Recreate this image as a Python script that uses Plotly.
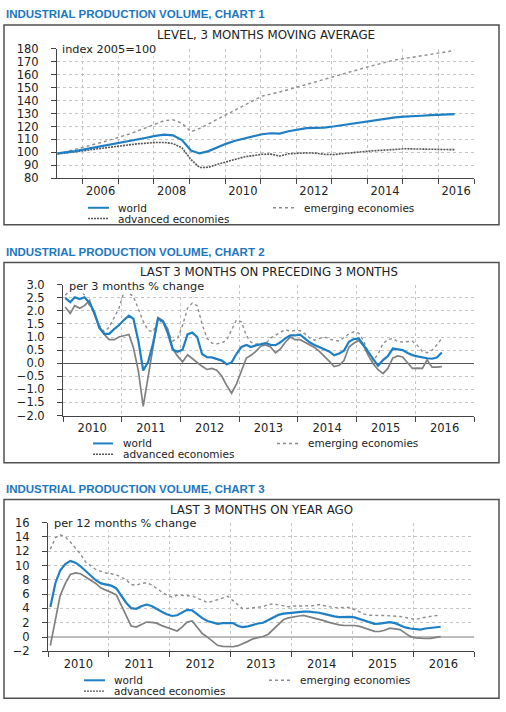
import plotly.graph_objects as go

W, H = 506, 712

# ---------------- data ----------------
# Chart 1: quarterly points, index 2005=100
C1_MONTH_IDX = [2005 * 12 + 3 + 3 * k for k in range(45)]
C1_DATES = [f"{i // 12}-{i % 12 + 1:02d}-15" for i in C1_MONTH_IDX] + ["2016-06-15"]
C1_WORLD = [99.3, 100.0, 101.0, 102.3, 103.5, 104.7, 106.0, 107.3, 108.7, 110.0, 111.3, 112.7,
            113.7, 113.2, 109.5, 101.5, 99.2, 101.0, 104.0, 106.8, 109.0, 110.8, 112.3, 114.0,
            114.8, 114.5, 116.3, 117.5, 118.7, 119.0, 119.2, 120.0, 121.0, 122.0, 123.2, 124.4,
            125.4, 126.0, 127.0, 127.6, 127.8, 128.3, 128.8, 129.0, 129.3, 129.6]
C1_EMERGING = [98.8, 100.5, 102.5, 104.3, 106.0, 107.8, 109.8, 111.8, 114.0, 116.5, 119.2, 122.0,
               124.5, 125.2, 122.5, 116.0, 118.5, 122.0, 125.5, 129.0, 132.5, 136.0, 140.0, 143.5,
               145.0, 146.5, 148.5, 150.5, 152.5, 154.5, 156.5, 158.8, 160.5, 162.5, 164.5, 166.3,
               168.0, 170.0, 171.5, 172.5, 173.5, 174.5, 175.8, 177.0, 178.0, 179.0]
C1_ADVANCED = [98.8, 99.5, 100.4, 101.3, 102.3, 103.3, 104.2, 105.0, 105.8, 106.6, 107.2, 107.6,
               107.7, 106.8, 103.5, 94.5, 88.3, 88.5, 90.8, 92.8, 94.8, 96.5, 97.5, 98.5,
               98.7, 97.2, 98.9, 99.5, 99.6, 99.4, 98.5, 98.3, 98.8, 99.5, 100.3, 101.0,
               101.6, 102.0, 102.3, 102.8, 102.6, 102.5, 102.5, 102.4, 102.2, 102.1]

# Charts 2 and 3: monthly points Jan 2010 - Jun 2016
M_DATES = [f"{2010 + m // 12}-{m % 12 + 1:02d}-15" for m in range(78)]

C2_WORLD = [2.5, 2.33, 2.52, 2.45, 2.52, 2.3, 1.95, 1.35, 1.12, 1.12, 1.3, 1.45,
            1.65, 1.82, 1.7, 0.85, -0.28, 0.05, 0.75, 1.7, 1.6, 1.15, 0.52, 0.44,
            0.52, 1.1, 1.17, 1.0, 0.35, 0.23, 0.22, 0.17, 0.1, -0.04, 0.03, 0.35,
            0.62, 0.7, 0.62, 0.68, 0.72, 0.77, 0.7, 0.69, 0.8, 0.95, 1.06, 1.06,
            1.09, 0.94, 0.8, 0.7, 0.62, 0.56, 0.45, 0.3, 0.37, 0.48, 0.82, 0.92,
            0.95, 0.68, 0.42, 0.15, -0.1, 0.12, 0.27, 0.56, 0.53, 0.5, 0.39, 0.31,
            0.26, 0.21, 0.19, 0.17, 0.22, 0.41]
C2_EMERGING = [2.6, 2.8, 2.95, 2.85, 2.6, 2.2, 1.9, 1.45, 1.2, 1.38, 1.72, 2.1,
               2.72, 2.68, 2.55, 2.1, 1.6, 1.25, 1.2, 1.6, 1.58, 1.2, 0.85, 0.95,
               1.45, 2.1, 2.3, 2.2, 1.5, 0.95, 0.77, 0.74, 0.78, 0.88, 1.3, 1.65,
               1.58, 1.05, 0.8, 0.73, 0.76, 0.74, 0.96, 1.07, 1.2, 1.28, 1.23, 1.25,
               1.24, 1.12, 0.97, 0.88, 0.95, 1.0, 0.93, 0.87, 0.85, 0.98, 1.12, 1.2,
               1.15, 0.85, 0.4, 0.1, 0.35, 0.75, 0.9, 0.95, 0.82, 0.81, 0.82, 0.84,
               0.68, 0.45, 0.4, 0.5, 0.7, 0.95]
C2_ADVANCED = [2.15, 1.9, 2.2, 2.1, 2.2, 2.4, 1.85, 1.4, 1.1, 0.9, 0.9, 1.0,
               1.05, 1.1, 0.6, -0.3, -1.65, -0.5, 0.63, 1.75, 1.62, 1.3, 0.55, 0.27,
               0.05, 0.32, 0.18, 0.02, -0.12, -0.24, -0.2, -0.27, -0.5, -0.85, -1.15, -0.8,
               -0.3, 0.2, 0.3, 0.45, 0.65, 0.7, 0.62, 0.4, 0.55, 0.8, 1.0, 0.9,
               0.9, 0.8, 0.68, 0.6, 0.45, 0.27, 0.08, -0.13, -0.08, 0.1, 0.62, 0.76,
               0.87, 0.65, 0.3, -0.02, -0.25, -0.4, -0.2, 0.2, 0.28, 0.24, 0.03, -0.2,
               -0.19, -0.2, 0.13, -0.15, -0.15, -0.13]

C3_WORLD = [4.2, 7.6, 9.3, 10.2, 10.65, 10.4, 9.9, 9.2, 8.5, 7.95, 7.5, 7.3,
            7.2, 6.8, 5.8, 4.8, 4.05, 3.95, 4.3, 4.55, 4.35, 3.9, 3.55, 3.2,
            2.95, 3.05, 3.45, 3.8, 3.75, 3.2, 2.65, 2.25, 2.0, 1.85, 1.95, 2.0,
            1.95, 1.55, 1.4, 1.5, 1.75, 1.9, 2.0, 2.4, 2.75, 3.1, 3.28, 3.35,
            3.45, 3.52, 3.57, 3.55, 3.5, 3.4, 3.25, 3.05, 2.9, 2.8, 2.85, 2.82,
            2.76, 2.55, 2.35, 2.1, 1.85, 1.87, 1.95, 2.1, 1.95, 1.65, 1.35, 1.2,
            1.1, 1.05, 1.2, 1.25, 1.35, 1.44]
C3_EMERGING = [12.3, 13.9, 14.3, 14.0, 13.3, 12.5, 11.6, 10.5, 9.9, 9.45, 9.2, 8.95,
               8.85, 8.7, 8.4, 8.0, 7.35, 7.25, 7.5, 7.6, 7.3, 6.75, 6.3, 5.9,
               5.6, 5.85, 5.8, 5.75, 5.75, 5.45, 5.1, 4.85, 5.0, 5.25, 5.55, 5.7,
               5.1, 4.55, 3.95, 4.02, 4.1, 4.2, 4.26, 4.55, 4.65, 4.5, 4.4, 4.25,
               4.35, 4.4, 4.35, 4.38, 4.4, 4.55, 4.45, 4.25, 4.12, 4.15, 4.15, 4.13,
               3.85, 3.5, 3.2, 3.05, 2.99, 3.02, 3.02, 3.0, 2.95, 2.88, 2.75, 2.6,
               2.45, 2.65, 2.82, 2.9, 3.0, 3.0]
C3_ADVANCED = [-1.2, 2.5, 5.8, 7.5, 8.75, 8.97, 8.85, 8.4, 7.9, 7.5, 6.85, 6.5,
               6.25, 5.9, 4.5, 2.9, 1.55, 1.4, 1.7, 2.1, 2.05, 1.95, 1.6, 1.35,
               1.15, 0.85, 1.4, 2.1, 2.25, 1.35, 0.5, 0.0, -0.6, -1.15, -1.3, -1.35,
               -1.35, -1.2, -0.95, -0.6, -0.25, -0.08, 0.08, 0.4, 1.1, 1.85, 2.45, 2.68,
               2.85, 2.95, 3.02, 2.85, 2.65, 2.45, 2.3, 2.05, 1.85, 1.7, 1.62, 1.62,
               1.62, 1.5, 1.3, 1.05, 0.8, 0.78, 0.95, 1.25, 1.2, 1.05, 0.55, 0.1,
               -0.1, -0.2, -0.2, -0.18, -0.1, 0.07]

HEADERS = ["INDUSTRIAL PRODUCTION VOLUME, CHART 1",
           "INDUSTRIAL PRODUCTION VOLUME, CHART 2",
           "INDUSTRIAL PRODUCTION VOLUME, CHART 3"]
TITLES = ["LEVEL, 3 MONTHS MOVING AVERAGE",
          "LAST 3 MONTHS ON PRECEDING 3 MONTHS",
          "LAST 3 MONTHS ON YEAR AGO"]
UNITS = ["index 2005=100", "per 3 months % change", "per 12 months % change"]
SERIES_NAMES = ["world", "emerging economies", "advanced economies"]
C1_YEAR_LABELS = ["2006", "2008", "2010", "2012", "2014", "2016"]
C23_YEAR_LABELS = ["2010", "2011", "2012", "2013", "2014", "2015", "2016"]

# ---------------- styles ----------------
BLUE = "#1f7fc4"
HEAD_BLUE = "#1b78c0"
EMERG = "#8c8c8c"
ADV_DOT = "#555555"
ADV_SOLID = "#808080"
GRID = "#c4c4c4"
AXIS = "#444444"
TXT = "#222222"
FONT = "DejaVu Sans"


def px(x):
    return x / W


def py(y):
    return 1 - y / H


fig = go.Figure()

# chart geometry in pixels: (x0, x1, y_top, y_bottom)
GEOM = [(57, 474, 42.7, 174.7), (63, 474, 283.3, 416.7), (48, 474, 526, 657.3)]

world_line = dict(color=BLUE, width=2.2)
emerg_line = dict(color=EMERG, width=1.4, dash="3px,3px")

# chart 1
fig.add_trace(go.Scatter(x=C1_DATES, y=C1_ADVANCED, mode="lines", xaxis="x", yaxis="y",
                         line=dict(color=ADV_DOT, width=1.6, dash="2px,1px"), showlegend=False))
fig.add_trace(go.Scatter(x=C1_DATES, y=C1_EMERGING, mode="lines", xaxis="x", yaxis="y",
                         line=emerg_line, showlegend=False))
fig.add_trace(go.Scatter(x=C1_DATES, y=C1_WORLD, mode="lines", xaxis="x", yaxis="y",
                         line=world_line, showlegend=False))
# chart 2
fig.add_trace(go.Scatter(x=M_DATES, y=C2_EMERGING, mode="lines", xaxis="x2", yaxis="y2",
                         line=emerg_line, showlegend=False))
fig.add_trace(go.Scatter(x=M_DATES, y=C2_ADVANCED, mode="lines", xaxis="x2", yaxis="y2",
                         line=dict(color=ADV_SOLID, width=1.7), showlegend=False))
fig.add_trace(go.Scatter(x=M_DATES, y=C2_WORLD, mode="lines", xaxis="x2", yaxis="y2",
                         line=world_line, showlegend=False))
# chart 3
fig.add_trace(go.Scatter(x=M_DATES, y=C3_EMERGING, mode="lines", xaxis="x3", yaxis="y3",
                         line=emerg_line, showlegend=False))
fig.add_trace(go.Scatter(x=M_DATES, y=C3_ADVANCED, mode="lines", xaxis="x3", yaxis="y3",
                         line=dict(color=ADV_SOLID, width=1.7), showlegend=False))
fig.add_trace(go.Scatter(x=M_DATES, y=C3_WORLD, mode="lines", xaxis="x3", yaxis="y3",
                         line=world_line, showlegend=False))

tickfont = dict(family=FONT, size=11.5, color=TXT)


def xaxis_cfg(geom, rng, labels, first_tick):
    x0, x1, yt, yb = geom
    return dict(domain=[px(x0), px(x1)], range=rng, type="date",
                tickmode="array", tickvals=[f"{l}-07-02" for l in labels], ticktext=labels,
                ticks="", ticklen=0, showgrid=False, showline=True, linecolor=AXIS, linewidth=1,
                tickfont=tickfont, ticklabelstandoff=2, zeroline=False,
                minor=dict(tickmode="linear", tick0=first_tick, dtick="M12", ticks="outside",
                           ticklen=5, tickcolor=AXIS, tickwidth=1, showgrid=True,
                           gridcolor=GRID, griddash="dot", gridwidth=1))


def yaxis_cfg(geom, rng, dtick, fmt, zl, zlc, zlw, anchor):
    x0, x1, yt, yb = geom
    return dict(domain=[py(yb), py(yt)], range=rng, dtick=dtick, tick0=0, tickformat=fmt,
                ticks="outside", ticklen=5, tickcolor=AXIS, showline=True, linecolor=AXIS,
                linewidth=1, showgrid=True, gridcolor=GRID, griddash="dot", gridwidth=1,
                zeroline=zl, zerolinecolor=zlc, zerolinewidth=zlw, tickfont=tickfont,
                ticklabelstandoff=10, anchor=anchor)


fig.update_layout(
    width=W, height=H, margin=dict(l=0, r=0, t=0, b=0),
    paper_bgcolor="white", plot_bgcolor="rgba(0,0,0,0)",
    xaxis=xaxis_cfg(GEOM[0], ["2005-04-10", "2017-01-01"], C1_YEAR_LABELS, "2006-01-01") | dict(anchor="y"),
    yaxis=yaxis_cfg(GEOM[0], [80, 180], 10, "d", False, AXIS, 1, "x"),
    xaxis2=xaxis_cfg(GEOM[1], ["2010-01-01", "2017-01-01"], C23_YEAR_LABELS, "2010-01-01") | dict(anchor="y2"),
    yaxis2=yaxis_cfg(GEOM[1], [-2, 3], 0.5, ".1f", True, "#555555", 1, "x2"),
    xaxis3=xaxis_cfg(GEOM[2], ["2010-01-01", "2017-01-01"], C23_YEAR_LABELS, "2010-01-01") | dict(anchor="y3"),
    yaxis3=yaxis_cfg(GEOM[2], [-2, 16], 2, "d", True, "#bdbdbd", 2, "x3"),
)

shapes = []
annotations = []

BOXES = [(4, 499, 18.3, 222), (4, 499, 260.7, 465), (4, 499, 502.3, 705)]
HEAD_Y = [7.5, 249.5, 491.3]
TITLE_Y = [29.0, 270.8, 513.2]
UNIT_Y = [43.2, 284.6, 526.8]
UNIT_X = [61, 68, 53]
LEG = [  # (line x0, line x1, text x, emerg line x0, x1, text x, row1 y, row2 y)
    (88, 109, 117, 273, 295, 303, 204.8, 215.8),
    (93, 113, 122, 277, 298, 307, 445.2, 456.2),
    (84, 105, 113, 269, 290, 299, 686.8, 697.8),
]

for i in range(3):
    bx0, bx1, by0, by1 = BOXES[i]
    shapes.append(dict(type="rect", xref="paper", yref="paper", x0=px(bx0), x1=px(bx1),
                       y0=py(by1), y1=py(by0), line=dict(color="#505050", width=1.5)))
    annotations.append(dict(xref="paper", yref="paper", x=px(4), y=py(HEAD_Y[i]),
                            xanchor="left", yanchor="middle", showarrow=False, text=HEADERS[i],
                            font=dict(family="Liberation Sans", size=11.5, color=HEAD_BLUE, weight="bold")))
    gx0, gx1, gyt, gyb = GEOM[i]
    annotations.append(dict(xref="paper", yref="paper", x=px((gx0 + gx1) / 2), y=py(TITLE_Y[i]),
                            xanchor="center", yanchor="middle", showarrow=False, text=TITLES[i],
                            borderpad=0,
                            font=dict(family=FONT, size=11.8, color=TXT)))
    annotations.append(dict(xref="paper", yref="paper", x=px(UNIT_X[i]), y=py(UNIT_Y[i]),
                            xanchor="left", yanchor="middle", showarrow=False, text=UNITS[i],
                            bgcolor="white", borderpad=0,
                            font=dict(family=FONT, size=11.3, color=TXT)))
    lx0, lx1, ltx, ex0, ex1, etx, r1, r2 = LEG[i]
    shapes.append(dict(type="line", xref="paper", yref="paper", x0=px(lx0), x1=px(lx1),
                       y0=py(r1), y1=py(r1), line=dict(color=BLUE, width=2)))
    shapes.append(dict(type="line", xref="paper", yref="paper", x0=px(ex0), x1=px(ex1),
                       y0=py(r1), y1=py(r1), line=dict(color=EMERG, width=1.4, dash="3px,3px")))
    shapes.append(dict(type="line", xref="paper", yref="paper", x0=px(lx0), x1=px(lx1),
                       y0=py(r2), y1=py(r2), line=dict(color=ADV_DOT, width=1.4, dash="2px,1px")))
    for (tx, ty, name) in [(ltx, r1, SERIES_NAMES[0]), (etx, r1, SERIES_NAMES[1]), (ltx, r2, SERIES_NAMES[2])]:
        annotations.append(dict(xref="paper", yref="paper", x=px(tx), y=py(ty),
                                xanchor="left", yanchor="middle", showarrow=False, text=name,
                                borderpad=0,
                                font=dict(family=FONT, size=10.5, color=TXT)))

fig.update_layout(shapes=shapes, annotations=annotations)
fig.write_html(
    "out.html",
    config={"displayModeBar": False},
    post_script=("document.body.style.margin='0';"
                 "document.documentElement.style.overflow='hidden';"
                 "document.body.style.overflow='hidden';"
                 "var d=document.getElementById('{plot_id}');"
                 "d.style.position='fixed';d.style.left='0px';d.style.top='0px';"),
)
